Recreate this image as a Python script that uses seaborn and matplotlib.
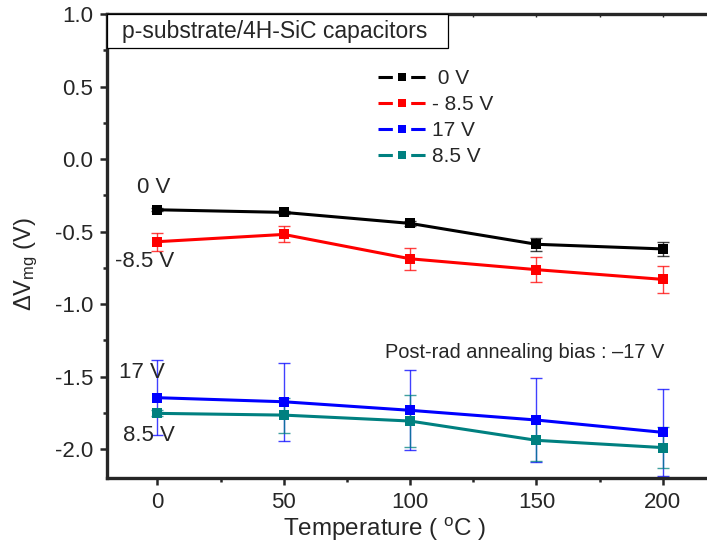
import numpy as np
import pandas as pd
import matplotlib
matplotlib.use("Agg")
import matplotlib.pyplot as plt
from matplotlib.patches import Rectangle
from matplotlib.ticker import MultipleLocator
import seaborn as sns

# data
temps = [0, 50, 100, 150, 200]
bias_labels = [" 0 V", "- 8.5 V", "17 V", "8.5 V"]
v_0 = [-0.35, -0.368, -0.444, -0.588, -0.62]
v_m85 = [-0.57, -0.52, -0.688, -0.763, -0.83]
v_17 = [-1.646, -1.674, -1.733, -1.80, -1.885]
v_85 = [-1.754, -1.766, -1.807, -1.94, -1.99]
err_0 = [0.01, 0.012, 0.02, 0.046, 0.048]
err_m85 = [0.063, 0.055, 0.076, 0.084, 0.092]
err_17 = [0.26, 0.27, 0.276, 0.29, 0.30]
err_85 = [0.02, 0.12, 0.18, 0.14, 0.14]
colors = ["#000000", "#ff0000", "#0000ff", "#008080"]

vals = [v_0, v_m85, v_17, v_85]
errs = [err_0, err_m85, err_17, err_85]

df = pd.DataFrame({
    "T": temps * 4,
    "dV": v_0 + v_m85 + v_17 + v_85,
    "bias": [b for b in bias_labels for _ in temps],
})

sns.set_style("ticks")
plt.rcParams['font.family'] = ['Liberation Sans', 'DejaVu Sans']
plt.rcParams['mathtext.fontset'] = 'custom'
plt.rcParams['mathtext.rm'] = 'Liberation Sans'
plt.rcParams['mathtext.it'] = 'Liberation Sans:italic'

fig = plt.figure(figsize=(7.07, 5.52), dpi=100)
ax = fig.add_axes([0.1513, 0.134, 0.8487, 0.8406])

# error bars first, lines on top
for v, e, c in zip(vals, errs, colors):
    ax.errorbar(temps, v, yerr=e, fmt='none', ecolor=c, elinewidth=1.0,
                capsize=4, capthick=1.0, alpha=0.75, zorder=2)

sns.lineplot(data=df, x="T", y="dV", hue="bias", hue_order=bias_labels,
             palette=colors, marker='s', markersize=7.5, markeredgewidth=0,
             linewidth=2.2, ax=ax, zorder=3)

ax.set_xlim(-20, 217.5)
ax.set_ylim(-2.2, 1.0)
ax.xaxis.set_major_locator(MultipleLocator(50))
ax.xaxis.set_minor_locator(MultipleLocator(25))
ax.yaxis.set_minor_locator(MultipleLocator(0.25))
ax.set_yticks(np.arange(-2.0, 1.01, 0.5))
ax.set_yticklabels(["%.1f" % t for t in np.arange(-2.0, 1.01, 0.5)])

ax.tick_params(axis='both', which='major', direction='out', length=5, width=1.8,
               labelsize=16, pad=5)
ax.tick_params(axis='both', which='minor', direction='out', length=3, width=1.8)
ax.tick_params(axis='x', which='both', top=False)
ax.tick_params(axis='y', which='both', right=False)
for side in ['left', 'bottom']:
    ax.spines[side].set_linewidth(2.4)
ax.spines['top'].set_visible(False)
ax.spines['right'].set_visible(False)

# inward ticks on top spine
sec = ax.secondary_xaxis('top')
sec.xaxis.set_major_locator(MultipleLocator(50))
sec.xaxis.set_minor_locator(MultipleLocator(25))
sec.tick_params(which='both', direction='in', length=2, width=1, labeltop=False)
sec.spines['top'].set_linewidth(2.4)

ax.set_xlabel(r"Temperature ( $^{\rm o}$C )", fontsize=17.5)
ax.set_ylabel(r"$\Delta$V$_{\rm mg}$ (V)", fontsize=17)
ax.xaxis.set_label_coords(0.463, -0.082)
ax.yaxis.set_label_coords(-0.112, 0.461)

# title box
ax.add_patch(Rectangle((0, 0.9267), 0.568, 0.0733, transform=ax.transAxes,
                       facecolor='white', edgecolor='black', linewidth=0.9,
                       zorder=5, clip_on=False))
ax.text(0.025, 0.963, "p-substrate/4H-SiC capacitors", transform=ax.transAxes,
        fontsize=16.5, va='center', ha='left', zorder=6)

leg = ax.legend(title=None, loc='upper left', bbox_to_anchor=(0.42, 0.921),
                frameon=False, fontsize=15, handlelength=2.3, labelspacing=0.33,
                handletextpad=0.3)
for h in leg.legend_handles:
    h.set_linestyle((0, (4.7, 6)))
    h.set_markersize(5.5)

# series labels
ax.text(-1.6, -0.193, "0 V", fontsize=16, ha='center', va='center')
ax.text(-5, -0.71, "-8.5 V", fontsize=16, ha='center', va='center')
ax.text(-6, -1.469, "17 V", fontsize=16, ha='center', va='center')
ax.text(-3.5, -1.91, "8.5 V", fontsize=16, ha='center', va='center')
ax.text(0.463, 0.2716, "Post-rad annealing bias : \u201317 V", transform=ax.transAxes,
        fontsize=14.4, ha='left', va='center')

fig.savefig("out.png", dpi=100)
